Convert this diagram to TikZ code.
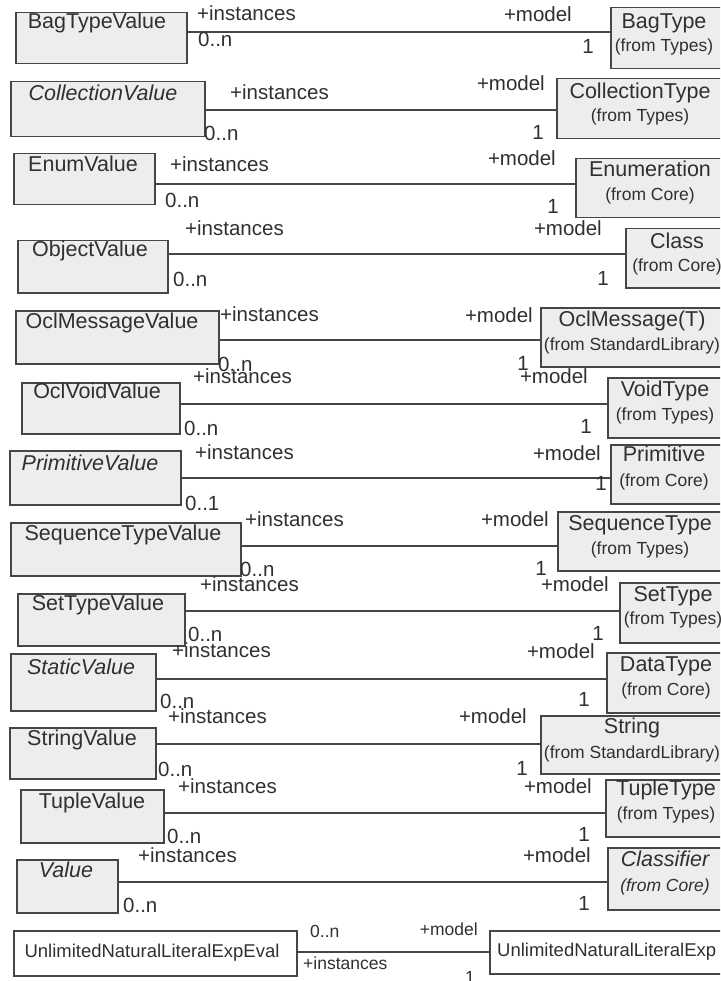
\documentclass[tikz,border=0pt]{standalone}
\usepackage{fontspec}
\setmainfont{Liberation Sans}
\definecolor{bdr}{HTML}{464646}
\definecolor{boxfill}{HTML}{EDEDED}
\definecolor{txt}{HTML}{303030}
\tikzset{
 cls/.style={draw=bdr, fill=boxfill, line width=1.5pt, anchor=north west, inner sep=0pt},
 wcls/.style={cls, fill=white},
 nm/.style={text=txt, font=\fontsize{21.5}{25}\selectfont, inner sep=0pt, text height=0.72em, text depth=0pt},
 nmi/.style={nm, font=\fontsize{21.5}{25}\selectfont\itshape},
 frm/.style={nm, font=\fontsize{17.5}{21}\selectfont},
 frmi/.style={nm, font=\fontsize{17.5}{21}\selectfont\itshape},
 lbl/.style={nm, anchor=west, font=\fontsize{20.5}{24}\selectfont},
 lblr/.style={nm, anchor=east, font=\fontsize{20.5}{24}\selectfont},
 one/.style={nm, font=\fontsize{20.5}{24}\selectfont},
 sm/.style={nm, font=\fontsize{17.5}{21}\selectfont},
 smname/.style={nm, font=\fontsize{18.5}{22}\selectfont},
 assoc/.style={draw=bdr, line width=1.5pt},
}
\begin{document}
\begin{tikzpicture}[x=1pt,y=-1pt]
\useasboundingbox (0,0) rectangle (720,981);
\fill[white] (0,0) rectangle (720,981);
\clip (0,0) rectangle (720,981);
% Row 1
\node[cls, minimum width=171pt, minimum height=51pt] (bagv) at (15,12) {};
\node[nm] (bagvt) at (97,25) {BagTypeValue};
\node[cls, minimum width=116pt, minimum height=61pt] (bagt) at (610,7) {};
\node[nm] (bagtt) at (664,25) {BagType};
\node[frm] (bagtf) at (664,48) {(from Types)};
\draw[assoc] (bagv.east |- 0,32) -- (bagt.west |- 0,32);
\node[lbl] (l1a) at (197,17) {+instances};
\node[lbl] (l1b) at (198,43) {0..n};
\node[lblr] (l1c) at (572,18) {+model};
\node[one] (l1d) at (588,50) {1};
% Row 2
\node[cls, minimum width=194pt, minimum height=55pt] (colv) at (10,81) {};
\node[nmi] (colvt) at (103,97) {CollectionValue};
\node[cls, minimum width=170pt, minimum height=60pt] (colt) at (556,78) {};
\node[nm] (coltt) at (640,95) {CollectionType};
\node[frm] (coltf) at (640,118) {(from Types)};
\draw[assoc] (colv.east |- 0,110) -- (colt.west |- 0,110);
\node[lbl] (l2a) at (230,96) {+instances};
\node[lbl] (l2b) at (204,137) {0..n};
\node[lblr] (l2c) at (545,87) {+model};
\node[one] (l2d) at (538,136) {1};
% Row 3
\node[cls, minimum width=141pt, minimum height=51pt] (enuv) at (13,153) {};
\node[nm] (enuvt) at (83,168) {EnumValue};
\node[cls, minimum width=151pt, minimum height=59pt] (enut) at (575,158) {};
\node[nm] (enutt) at (650,173) {Enumeration};
\node[frm] (enutf) at (650,197) {(from Core)};
\draw[assoc] (enuv.east |- 0,184) -- (enut.west |- 0,184);
\node[lbl] (l3a) at (170,168) {+instances};
\node[lbl] (l3b) at (165,204) {0..n};
\node[lblr] (l3c) at (556,162) {+model};
\node[one] (l3d) at (553,210) {1};
% Row 4
\node[cls, minimum width=150pt, minimum height=52pt] (objv) at (17,240) {};
\node[nm] (objvt) at (90,253) {ObjectValue};
\node[cls, minimum width=101pt, minimum height=59pt] (objt) at (625,228) {};
\node[nm] (objtt) at (677,245) {Class};
\node[frm] (objtf) at (677,268) {(from Core)};
\draw[assoc] (objv.east |- 0,254) -- (objt.west |- 0,254);
\node[lbl] (l4a) at (185,232) {+instances};
\node[lbl] (l4b) at (173,283) {0..n};
\node[lblr] (l4c) at (602,232) {+model};
\node[one] (l4d) at (603,282) {1};
% Row 5
\node[cls, minimum width=203pt, minimum height=53pt] (msgv) at (15,310) {};
\node[nm] (msgvt) at (112,325) {OclMessageValue};
\node[cls, minimum width=186pt, minimum height=59pt] (msgt) at (540,307) {};
\node[nm] (msgtt) at (632,323) {OclMessage(T)};
\node[frm] (msgtf) at (632,347) {(from StandardLibrary)};
\draw[assoc] (msgv.east |- 0,340) -- (msgt.west |- 0,340);
\node[lbl] (l5a) at (220,318) {+instances};
\node[lbl] (l5b) at (218,368) {0..n};
\node[lblr] (l5c) at (533,319) {+model};
\node[one] (l5d) at (523,367) {1};
% Row 6
\node[cls, minimum width=158pt, minimum height=51pt] (voiv) at (21,382) {};
\node[nm] (voivt) at (97,395) {OclVoidValue};
\node[cls, minimum width=119pt, minimum height=60pt] (voit) at (607,377) {};
\node[nm] (voitt) at (665,393) {VoidType};
\node[frm] (voitf) at (665,417) {(from Types)};
\draw[assoc] (voiv.east |- 0,404) -- (voit.west |- 0,404);
\node[lbl] (l6a) at (193,380) {+instances};
\node[lbl] (l6b) at (184,432) {0..n};
\node[lblr] (l6c) at (588,380) {+model};
\node[one] (l6d) at (586,430) {1};
% Row 7
\node[cls, minimum width=171pt, minimum height=54pt] (priv) at (9,450) {};
\node[nmi] (privt) at (90,467) {PrimitiveValue};
\node[cls, minimum width=116pt, minimum height=59pt] (prit) at (610,444) {};
\node[nm] (pritt) at (664,458) {Primitive};
\node[frm] (pritf) at (664,483) {(from Core)};
\draw[assoc] (priv.east |- 0,478) -- (prit.west |- 0,478);
\node[lbl] (l7a) at (195,456) {+instances};
\node[lbl] (l7b) at (185,507) {0..1};
\node[lblr] (l7c) at (601,457) {+model};
\node[one] (l7d) at (601,487) {1};
% Row 8
\node[cls, minimum width=230pt, minimum height=53pt] (seqv) at (10,522) {};
\node[nm] (seqvt) at (123,537) {SequenceTypeValue};
\node[cls, minimum width=169pt, minimum height=59pt] (seqt) at (557,511) {};
\node[nm] (seqtt) at (640,527) {SequenceType};
\node[frm] (seqtf) at (640,551) {(from Types)};
\draw[assoc] (seqv.east |- 0,546) -- (seqt.west |- 0,546);
\node[lbl] (l8a) at (245,523) {+instances};
\node[lbl] (l8b) at (240,573) {0..n};
\node[lblr] (l8c) at (549,523) {+model};
\node[one] (l8d) at (541,572) {1};
% Row 9
\node[cls, minimum width=167pt, minimum height=52pt] (setv) at (17,593) {};
\node[nm] (setvt) at (98,607) {SetTypeValue};
\node[cls, minimum width=107pt, minimum height=60pt] (sett) at (619,582) {};
\node[nm] (settt) at (673,598) {SetType};
\node[frm] (settf) at (673,621) {(from Types)};
\draw[assoc] (setv.east |- 0,611) -- (sett.west |- 0,611);
\node[lbl] (l9a) at (200,588) {+instances};
\node[lbl] (l9b) at (188,638) {0..n};
\node[lblr] (l9c) at (609,588) {+model};
\node[one] (l9d) at (598,637) {1};
% Row 10
\node[cls, minimum width=145pt, minimum height=57pt] (stav) at (10,653) {};
\node[nmi] (stavt) at (81,671) {StaticValue};
\node[cls, minimum width=120pt, minimum height=60pt] (stat) at (606,652) {};
\node[nm] (statt) at (666,668) {DataType};
\node[frm] (statf) at (666,692) {(from Core)};
\draw[assoc] (stav.east |- 0,679) -- (stat.west |- 0,679);
\node[lbl] (l10a) at (172,654) {+instances};
\node[lbl] (l10b) at (160,705) {0..n};
\node[lblr] (l10c) at (595,655) {+model};
\node[one] (l10d) at (584,703) {1};
% Row 11
\node[cls, minimum width=146pt, minimum height=51pt] (strv) at (9,727) {};
\node[nm] (strvt) at (82,742) {StringValue};
\node[cls, minimum width=186pt, minimum height=58pt] (strt) at (540,715) {};
\node[nm] (strtt) at (632,730) {String};
\node[frm] (strtf) at (632,755) {(from StandardLibrary)};
\draw[assoc] (strv.east |- 0,744) -- (strt.west |- 0,744);
\node[lbl] (l11a) at (168,720) {+instances};
\node[lbl] (l11b) at (158,773) {0..n};
\node[lblr] (l11c) at (527,720) {+model};
\node[one] (l11d) at (522,772) {1};
% Row 12
\node[cls, minimum width=143pt, minimum height=53pt] (tupv) at (20,789) {};
\node[nm] (tupvt) at (92,805) {TupleValue};
\node[cls, minimum width=121pt, minimum height=57pt] (tupt) at (605,779) {};
\node[nm] (tuptt) at (666,792) {TupleType};
\node[frm] (tuptf) at (666,816) {(from Types)};
\draw[assoc] (tupv.east |- 0,813) -- (tupt.west |- 0,813);
\node[lbl] (l12a) at (178,790) {+instances};
\node[lbl] (l12b) at (167,840) {0..n};
\node[lblr] (l12c) at (592,790) {+model};
\node[one] (l12d) at (584,838) {1};
% Row 13
\node[cls, minimum width=101pt, minimum height=53pt] (valv) at (16,859) {};
\node[nmi] (valvt) at (66,874) {Value};
\node[cls, minimum width=119pt, minimum height=62pt] (valt) at (607,847) {};
\node[nmi] (valtt) at (665,863) {Classifier};
\node[frmi] (valtf) at (665,888) {(from Core)};
\draw[assoc] (valv.east |- 0,882) -- (valt.west |- 0,882);
\node[lbl] (l13a) at (138,859) {+instances};
\node[lbl] (l13b) at (123,909) {0..n};
\node[lblr] (l13c) at (591,859) {+model};
\node[one] (l13d) at (584,907) {1};
% Row 14
\node[wcls, minimum width=283pt, minimum height=45pt] (unev) at (13,930) {};
\node[smname] (unevt) at (152,954) {UnlimitedNaturalLiteralExpEval};
\node[wcls, minimum width=237pt, minimum height=43pt] (unet) at (489,930) {};
\node[smname, anchor=west] (unett) at (497,953) {UnlimitedNaturalLiteralExp};
\draw[assoc] (unev.east |- 0,952) -- (unet.west |- 0,952);
\node[sm, anchor=west] (l14a) at (303,966) {+instances};
\node[sm, anchor=west] (l14b) at (310,934) {0..n};
\node[sm, anchor=east] (l14c) at (478,932) {+model};
\node[sm] (l14d) at (470,980) {1};
\end{tikzpicture}
\end{document}
